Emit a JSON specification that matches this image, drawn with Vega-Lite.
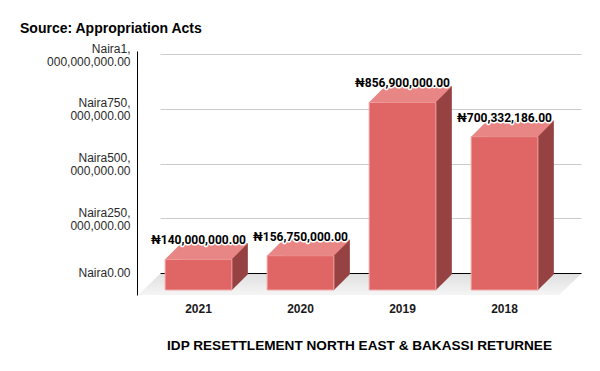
{
  "$schema": "https://vega.github.io/schema/vega-lite/v6.json",
  "width": 421,
  "height": 244,
  "autosize": {"type": "none"},
  "padding": {"left": 160, "top": 51, "right": 19, "bottom": 76},
  "background": "white",
  "config": {
    "view": {"stroke": null},
    "locale": {"number": {"decimal": ".", "thousands": ",", "grouping": [3], "currency": ["₦", ""]}}
  },
  "title": {
    "text": "Source: Appropriation Acts",
    "anchor": "start",
    "frame": "group",
    "dx": -140,
    "dy": 6,
    "offset": 1,
    "baseline": "alphabetic",
    "font": "Liberation Sans",
    "fontSize": 14,
    "fontWeight": "bold",
    "color": "#000000"
  },
  "data": {
    "values": [
      {"year": "2021", "amount": 140000000},
      {"year": "2020", "amount": 156750000},
      {"year": "2019", "amount": 856900000},
      {"year": "2018", "amount": 700332186}
    ]
  },
  "encoding": {
    "x": {
      "field": "year",
      "type": "nominal",
      "sort": null,
      "scale": {"paddingInner": 0.346, "paddingOuter": 0.2367},
      "axis": {
        "orient": "bottom",
        "domain": false,
        "ticks": false,
        "labelAngle": 0,
        "labelOffset": -19,
        "labelPadding": 8,
        "labelFont": "Liberation Sans",
        "labelFontSize": 12,
        "labelFontWeight": "bold",
        "labelColor": "#1a1a1a",
        "title": "IDP RESETTLEMENT NORTH EAST & BAKASSI RETURNEE",
        "titleFont": "Liberation Sans",
        "titleFontSize": 13.6,
        "titleFontWeight": "bold",
        "titleColor": "#000000",
        "titleX": 199,
        "titleY": 54,
        "titleBaseline": "alphabetic"
      }
    },
    "y": {
      "field": "amount",
      "type": "quantitative",
      "scale": {"domain": [-100457000, 1013699000], "nice": false, "zero": false},
      "axis": {
        "values": [0, 250000000, 500000000, 750000000, 1000000000],
        "offset": 23,
        "domainColor": "#000000",
        "domainWidth": 1,
        "ticks": false,
        "grid": true,
        "gridColor": {"condition": {"test": "datum.value === 0", "value": "#000000"}, "value": "#cccccc"},
        "labelFont": "Liberation Sans",
        "labelFontSize": 12,
        "labelColor": "#2a2a2a",
        "labelPadding": 7,
        "labelLineHeight": 13,
        "labelOffset": {"condition": {"test": "datum.value === 0", "value": 0}, "value": -6},
        "labelBound": false,
        "labelOverlap": false,
        "labelExpr": "indexof(format(datum.value, ',.2f'), ',') > 0 ? ['Naira' + slice(format(datum.value, ',.2f'), 0, indexof(format(datum.value, ',.2f'), ',') + 1), slice(format(datum.value, ',.2f'), indexof(format(datum.value, ',.2f'), ',') + 1)] : 'Naira' + format(datum.value, ',.2f')",
        "title": null
      }
    }
  },
  "layer": [
    {
      "mark": {
        "type": "point",
        "shape": "M-57.5,1 L57.5,1 L35.5,22 L-79.5,22 Z",
        "size": 4,
        "filled": true,
        "opacity": 1,
        "strokeWidth": 0,
        "fill": {"gradient": "linear", "x1": 0, "y1": 0, "x2": 0, "y2": 1, "stops": [{"offset": 0, "color": "#e0e0e0"}, {"offset": 1, "color": "#f5f5f5"}]}
      },
      "encoding": {"y": {"datum": 0, "type": "quantitative"}}
    },
    {
      "mark": {"type": "bar", "color": "#974242", "xOffset": -3, "x2Offset": -3, "yOffset": 1, "y2Offset": 1}
    },
    {
      "mark": {
        "type": "point",
        "shape": "M14,17.5 L30.35,1.2 L30.35,0 L14,0 Z",
        "size": 4,
        "filled": true,
        "opacity": 1,
        "strokeWidth": 0,
        "fill": "#974242"
      },
      "encoding": {"y": {"datum": 0, "type": "quantitative"}}
    },
    {
      "mark": {"type": "bar", "color": "#e06666", "stroke": "#f2a6a6", "strokeWidth": 1, "xOffset": -19, "x2Offset": -19, "yOffset": 17, "y2Offset": 17}
    },
    {
      "mark": {
        "type": "point",
        "shape": "M-52.35,17 L14.35,17 L30.35,1 L-36.35,1 Z",
        "size": 4,
        "filled": true,
        "opacity": 1,
        "strokeWidth": 0,
        "fill": "#e88686"
      }
    },
    {
      "mark": {"type": "text", "font": "Roboto", "fontSize": 12, "fontWeight": "bold", "stroke": "#ffffff", "strokeWidth": 3, "strokeJoin": "round", "fill": "#ffffff", "baseline": "alphabetic", "xOffset": -19, "yOffset": 2},
      "encoding": {"text": {"field": "amount", "type": "quantitative", "format": "$,.2f"}}
    },
    {
      "mark": {"type": "text", "font": "Roboto", "fontSize": 12, "fontWeight": "bold", "fill": "#000000", "baseline": "alphabetic", "xOffset": -19, "yOffset": 2},
      "encoding": {"text": {"field": "amount", "type": "quantitative", "format": "$,.2f"}}
    }
  ]
}
